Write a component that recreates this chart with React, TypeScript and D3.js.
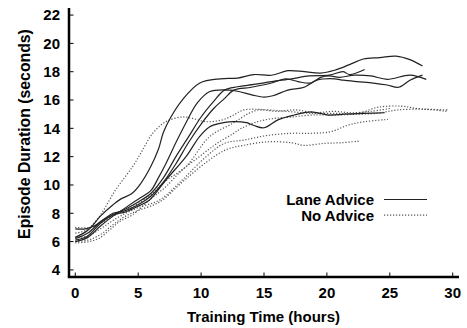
import React from 'react';
import * as d3 from 'd3';

// training time (hours) vs episode duration (seconds), one array per run
const laneRun1 = [[0, 6.3], [1, 6.8], [2, 7.8], [3, 8.6], [3.6, 9.0], [4.5, 9.4], [5.2, 10.1], [6.0, 11.3], [6.6, 12.5], [7.0, 13.7], [7.6, 14.8], [8.5, 16.0], [9.9, 17.2], [11.5, 17.5], [12.9, 17.55], [14.2, 17.8], [15.6, 17.75], [16.9, 18.07], [18.2, 18.0], [19.5, 17.9], [20.6, 18.1], [21.8, 18.5], [22.9, 18.9], [24.2, 19.0], [25.5, 19.1], [26.6, 18.85], [27.6, 18.4]];
const laneRun2 = [[0, 6.9], [0.8, 6.9], [1.5, 7.1], [2.3, 7.6], [3, 8.0], [4, 8.2], [5, 8.6], [6, 9.2], [7, 10.2], [8, 11.5], [9, 13.0], [10, 14.3], [11, 15.4], [11.85, 16.1], [12.6, 16.7], [14, 16.9], [15.6, 17.2], [16.7, 17.5], [17.7, 17.3], [18.7, 17.2], [19.5, 17.6], [20.2, 17.7], [21, 17.6], [22.2, 17.76], [23.5, 17.7], [24.8, 17.46], [26.6, 17.76], [27.9, 17.46]];
const laneRun3 = [[0, 6.1], [1, 6.4], [2, 7.3], [3, 7.9], [4, 8.3], [5, 8.8], [6, 9.4], [7, 10.5], [8, 12.0], [9, 13.4], [10, 14.8], [11, 15.9], [11.85, 16.7], [12.9, 16.94], [14.2, 17.1], [15.6, 17.3], [17.2, 17.5], [18.6, 17.7], [20.2, 17.76], [21.3, 18.0], [21.8, 17.8], [23, 18.16]];
const laneRun4 = [[0, 6.0], [1, 6.3], [2, 7.1], [3, 7.8], [4, 8.4], [5, 9.0], [6, 9.6], [6.6, 10.5], [7.2, 11.5], [8, 13.0], [8.8, 14.4], [9.7, 15.8], [10.7, 16.6], [12.25, 16.7], [13, 16.6], [14.1, 16.35], [15, 16.2], [15.7, 16.3], [16.9, 16.7], [18.2, 16.9], [19.2, 17.4], [20.6, 17.5], [21.3, 17.4], [22.4, 17.3], [23.7, 17.2], [24.8, 17.06], [25.7, 16.9], [26.6, 17.4], [27.6, 17.76]];
const laneRun5 = [[0, 6.2], [1, 6.6], [2, 7.4], [3, 7.9], [4, 8.1], [5, 8.5], [5.9, 8.94], [7.2, 10.35], [8.8, 12.0], [9.86, 13.4], [10.66, 14.1], [11.5, 14.35], [12.5, 14.47], [13.6, 14.4], [14.2, 14.2], [15.0, 14.04], [16.1, 14.6], [17.4, 14.94], [18.75, 15.17], [20.1, 14.94], [21.4, 15.0], [23, 15.06], [24.6, 15.1]];

const noRun1 = [[0, 6.6], [0.85, 6.8], [1.9, 7.76], [3.2, 9.65], [4.56, 11.3], [5.35, 12.47], [6.15, 13.65], [7.2, 14.47], [8.5, 14.8], [9.3, 14.7], [10.4, 14.47], [11.7, 14.6], [12.5, 14.9], [13.4, 15.3], [15.3, 15.3], [17.2, 15.17], [18.75, 15.06], [20.6, 15.06], [22.5, 15.06], [24, 15.48], [25.9, 15.57], [27.2, 15.4], [29.6, 15.3]];
const noRun2 = [[0, 7.0], [1.1, 7.0], [2, 7.3], [3, 7.8], [4, 8.2], [5, 8.7], [6, 9.3], [7.2, 10.3], [8.8, 11.3], [10.66, 13.4], [12.5, 14.35], [13.8, 15.06], [14.6, 15.3], [16, 15.2], [17.5, 15.3], [19, 15.1], [20.5, 15.2], [22, 15.1], [23.5, 15.2], [25, 15.4]];
const noRun3 = [[0, 6.3], [1, 6.4], [2, 6.9], [3, 7.5], [4, 8.0], [5, 8.4], [6.7, 8.94], [8.5, 10.35], [10.4, 12.0], [11.85, 12.94], [13.4, 13.17], [15.3, 13.5], [17.2, 13.65], [18.75, 13.65], [20.3, 13.76], [21.7, 14.23], [23, 14.47], [24.85, 14.63]];
const noRun4 = [[0, 6.0], [1, 6.1], [2, 6.5], [3, 7.2], [4, 7.8], [5, 8.2], [6.7, 8.8], [8.5, 10.2], [10.4, 11.6], [12, 12.5], [13.4, 12.8], [15.3, 13.05], [17.2, 12.98], [18.2, 12.8], [19.8, 12.94], [21.1, 12.98], [22.6, 13.1]];
const noRun5 = [[0, 5.9], [1.1, 6.0], [1.9, 6.24], [2.7, 6.8], [3.5, 7.4], [4.56, 7.9], [5.9, 8.94], [7.2, 9.88], [8.5, 11.06], [9.86, 12.0], [11.2, 12.9], [12.5, 13.6], [13.2, 14.0], [14.5, 14.47], [15.8, 14.7], [17.2, 14.8], [18.75, 14.94], [20.6, 14.94], [22.5, 15.0], [24, 15.06], [25.6, 15.3], [27.8, 15.34], [29.6, 15.2]];

const laneRuns = [laneRun1, laneRun2, laneRun3, laneRun4, laneRun5];
const noAdviceRuns = [noRun1, noRun2, noRun3, noRun4, noRun5];

const xTicks = [0, 5, 10, 15, 20, 25, 30];
const yTicks = [4, 6, 8, 10, 12, 14, 16, 18, 20, 22];
const legendLabels = ['Lane Advice', 'No Advice'];

const W = 467;
const H = 328;
const font = '"Liberation Sans", Arial, Helvetica, sans-serif';

export default function App() {
  const x = d3.scaleLinear().domain([-0.5, 30.5]).range([69, 459]);
  const y = d3.scaleLinear().domain([3.5, 22.5]).range([277, 8]);

  const line = d3.line()
    .x(d => x(d[0]))
    .y(d => y(d[1]))
    .curve(d3.curveCatmullRom.alpha(0.5));

  const solid = { fill: 'none', stroke: '#222', strokeWidth: 1.2 };
  const dotted = { fill: 'none', stroke: '#555', strokeWidth: 1.2, strokeDasharray: '1.2 1.8' };

  return (
    <svg width={W} height={H} style={{ position: 'absolute', left: 0, top: 0 }}>
      <rect width={W} height={H} fill="#fff" />

      {noAdviceRuns.map((r, i) => (
        <path key={'n' + i} d={line(r)} {...dotted} />
      ))}
      {laneRuns.map((r, i) => (
        <path key={'l' + i} d={line(r)} {...solid} />
      ))}

      {/* axes */}
      <line x1={69} x2={69} y1={y.range()[1]} y2={y.range()[0]} stroke="#000" strokeWidth={2.5} />
      <line x1={67.8} x2={x.range()[1]} y1={y.range()[0]} y2={y.range()[0]} stroke="#000" strokeWidth={2.5} />

      {yTicks.map(t => (
        <g key={'y' + t}>
          <line x1={69} x2={73.5} y1={y(t)} y2={y(t)} stroke="#000" strokeWidth={1} />
          <text x={60} y={y(t)} dy="0.36em" textAnchor="end" fontFamily={font} fontWeight="bold" fontSize={15}>{t}</text>
        </g>
      ))}
      {xTicks.map(t => (
        <g key={'x' + t}>
          <line x1={x(t)} x2={x(t)} y1={277} y2={272.5} stroke="#000" strokeWidth={1} />
          <text x={x(t)} y={298} textAnchor="middle" fontFamily={font} fontWeight="bold" fontSize={15}>{t}</text>
        </g>
      ))}

      <text x={263.5} y={322} textAnchor="middle" fontFamily={font} fontWeight="bold" fontSize={15}>Training Time (hours)</text>
      <text transform="translate(29.5,134) rotate(-90)" textAnchor="middle" fontFamily={font} fontWeight="bold" fontSize={15.8}>Episode Duration (seconds)</text>

      {/* legend */}
      {legendLabels.map((lab, i) => (
        <g key={lab}>
          <text x={374} y={205 + i * 15.7} textAnchor="end" fontFamily={font} fontWeight="bold" fontSize={15}>{lab}</text>
          <line x1={384} x2={427} y1={199.5 + i * 15.7} y2={199.5 + i * 15.7} {...(i === 0 ? solid : dotted)} />
        </g>
      ))}
    </svg>
  );
}
